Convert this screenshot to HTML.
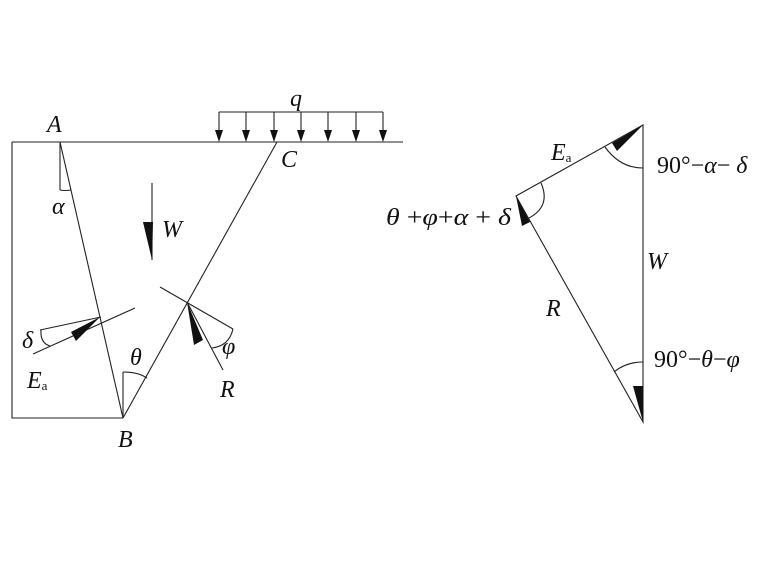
<!DOCTYPE html>
<html><head><style>
html,body{margin:0;padding:0;background:#fff;}
svg text{font-family:"Liberation Serif",serif;fill:#111;}
.i{font-style:italic;}
</style></head><body>
<svg width="780" height="583" viewBox="0 0 780 583" xmlns="http://www.w3.org/2000/svg">
<g stroke="#222" stroke-width="1.1" fill="none">
<line x1="12" y1="142" x2="403" y2="142"/>
<polyline points="12,142 12,418 123,418"/>
<line x1="60" y1="142" x2="123" y2="418"/>
<line x1="277" y1="142" x2="123" y2="418"/>
<line x1="60" y1="142" x2="60" y2="190"/>
<path d="M60,190 Q65,191 71,190"/>
<line x1="219" y1="112" x2="383" y2="112"/>
<line x1="219" y1="112" x2="219" y2="132"/>
<line x1="246" y1="112" x2="246" y2="132"/>
<line x1="274" y1="112" x2="274" y2="132"/>
<line x1="301" y1="112" x2="301" y2="132"/>
<line x1="328" y1="112" x2="328" y2="132"/>
<line x1="356" y1="112" x2="356" y2="132"/>
<line x1="383" y1="112" x2="383" y2="132"/>
<line x1="152" y1="183" x2="152" y2="260"/>
<line x1="33" y1="354" x2="135" y2="308"/>
<line x1="40" y1="330" x2="101" y2="317"/>
<path d="M41,330 Q40,343 50,346"/>
<line x1="160" y1="287" x2="233" y2="329"/>
<line x1="187" y1="302" x2="223" y2="370"/>
<path d="M233,329 Q229,346 212,348"/>
<line x1="123" y1="418" x2="123" y2="372"/>
<path d="M123,372 Q138,372 147,378"/>
<polygon points="643,125 643,422 516,196"/>
<path d="M605,147 Q620,168 643,168"/>
<path d="M541,183 Q552,208 525,220"/>
<path d="M614,372 Q626,362 643,362"/>
</g>
<g fill="#111">
<polygon points="215,130 223,130 219,142"/>
<polygon points="242,130 250,130 246,142"/>
<polygon points="270,130 278,130 274,142"/>
<polygon points="297,130 305,130 301,142"/>
<polygon points="324,130 332,130 328,142"/>
<polygon points="352,130 360,130 356,142"/>
<polygon points="379,130 387,130 383,142"/>
<polygon points="143,222 153,222 152,260"/>
<polygon points="100,317 71,332 76,341"/>
<polygon points="187,302 194,345 203,340"/>
<polygon points="643,125 612,143 617,151"/>
<polygon points="516,196 522,226 530,222"/>
<polygon points="643,422 633,386 643,386"/>
</g>
<g font-size="24">
<text x="290" y="106" class="i">q</text>
<text x="47" y="132" class="i">A</text>
<text x="281" y="167" class="i">C</text>
<text x="52" y="214" class="i">α</text>
<text x="162" y="237" class="i">W</text>
<text x="22" y="348" class="i">δ</text>
<text x="27" y="388" class="i">E<tspan font-size="13" dy="2" font-style="normal">a</tspan></text>
<text x="130" y="365" class="i">θ</text>
<text x="222" y="354" class="i">φ</text>
<text x="220" y="397" class="i">R</text>
<text x="118" y="447" class="i">B</text>
<text x="551" y="160" class="i">E<tspan font-size="13" dy="2" font-style="normal">a</tspan></text>
<text x="657" y="173">90°−<tspan class="i">α</tspan>− <tspan class="i">δ</tspan></text>
<text x="386" y="225" textLength="125" lengthAdjust="spacingAndGlyphs"><tspan class="i">θ</tspan> +<tspan class="i">φ</tspan>+<tspan class="i">α</tspan> + <tspan class="i">δ</tspan></text>
<text x="647" y="269" class="i">W</text>
<text x="546" y="316" class="i">R</text>
<text x="654" y="367">90°−<tspan class="i">θ</tspan>−<tspan class="i">φ</tspan></text>
</g>
</svg>
</body></html>
